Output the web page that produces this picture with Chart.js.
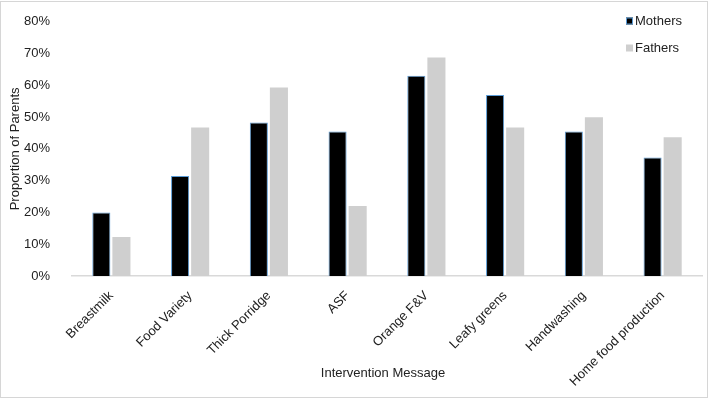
<!DOCTYPE html>
<html>
<head>
<meta charset="utf-8">
<script src="https://cdn.jsdelivr.net/npm/chart.js@4"></script>
<style>
  html,body{margin:0;padding:0;background:#fff;}
  #wrap{width:709px;height:400px;}
</style>
</head>
<body>
<div id="wrap"><canvas id="c" width="709" height="400"></canvas></div>
<script>
// data
const categories=['Breastmilk','Food Variety','Thick Porridge','ASF','Orange F&V','Leafy greens','Handwashing','Home food production'];
const mothers=[20,31.5,48.3,45.5,63,57,45.5,37.3];
const fathers=[12.3,46.7,59.3,22,68.8,46.7,50,43.7];
const yTicks=[0,10,20,30,40,50,60,70,80];

const FONT='"Liberation Sans", Arial, sans-serif';
Chart.defaults.font.family=FONT;
Chart.defaults.font.size=13;
Chart.defaults.color='#222';

// legend top-right + x title + outer frame
const extras={
  id:'extras',
  afterDraw(chart){
    const ctx=chart.ctx, a=chart.chartArea;
    ctx.save();
    ctx.font='13px '+FONT;
    ctx.fillStyle='#222';
    ctx.textBaseline='middle';
    chart.data.datasets.forEach((ds,i)=>{
      const y=21+i*27;
      ctx.fillStyle=ds.backgroundColor;
      ctx.fillRect(626,y-3.5,7,7);
      if(ds.borderWidth){ctx.strokeStyle=ds.borderColor;ctx.lineWidth=1;ctx.strokeRect(626.5,y-3,6,6);}
      ctx.fillStyle='#222';
      ctx.fillText(ds.label,635,y);
    });
    ctx.textAlign='center';
    ctx.fillText('Intervention Message',(a.left+a.right)/2-4,373);
    ctx.strokeStyle='#d6d6d6';
    ctx.lineWidth=1;
    ctx.strokeRect(0.5,1.5,707,396);
    ctx.restore();
  }
};

new Chart(document.getElementById('c'),{
  type:'bar',
  data:{labels:categories,datasets:[
    {label:'Mothers',data:mothers,backgroundColor:'#000000',borderColor:'#5b9bd5',borderWidth:1,barPercentage:0.9,categoryPercentage:0.51},
    {label:'Fathers',data:fathers,backgroundColor:'#cfcfcf',borderWidth:0,barPercentage:0.9,categoryPercentage:0.51}
  ]},
  options:{
    responsive:false,animation:false,
    layout:{padding:{top:8,right:7,left:0,bottom:0}},
    plugins:{legend:{display:false},tooltip:{enabled:false}},
    scales:{
      x:{
        grid:{display:false},
        border:{display:true,color:'#d9d9d9',width:1.5},
        ticks:{maxRotation:45,minRotation:45,padding:4,color:'#222',font:{size:13}},
        afterFit(s){s.height=124;}
      },
      y:{
        min:0,max:80,
        grid:{display:false},
        border:{display:false},
        afterBuildTicks(s){s.ticks=yTicks.map(v=>({value:v}));},
        afterFit(s){s.width=72;},
        ticks:{padding:14,color:'#222',callback:v=>v+'%'},
        title:{display:true,text:'Proportion of Parents',color:'#222',font:{size:13},padding:{top:8,bottom:0}}
      }
    }
  },
  plugins:[extras]
});
</script>
</body>
</html>
